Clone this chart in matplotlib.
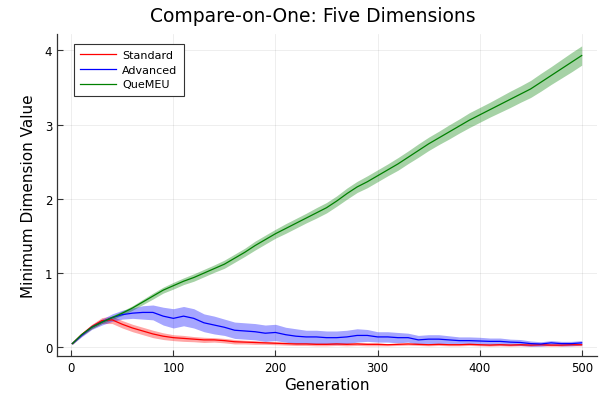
import matplotlib
matplotlib.use('Agg')
import matplotlib.pyplot as plt
import numpy as np

generations = [1] + list(range(10, 501, 10))

standard_mean = [0.05, 0.17, 0.28, 0.36, 0.37, 0.31, 0.26, 0.22, 0.18, 0.15,
                 0.13, 0.12, 0.11, 0.10, 0.10, 0.09, 0.075, 0.07, 0.065, 0.06,
                 0.055, 0.05, 0.045, 0.045, 0.04, 0.04, 0.045, 0.04, 0.045, 0.04,
                 0.04, 0.035, 0.04, 0.045, 0.04, 0.035, 0.04, 0.035, 0.035, 0.04,
                 0.035, 0.03, 0.035, 0.03, 0.035, 0.03, 0.035, 0.03, 0.03, 0.035,
                 0.035]
standard_sd = [0.01, 0.02, 0.03, 0.04, 0.05, 0.05, 0.05, 0.05, 0.05, 0.045,
               0.04, 0.04, 0.035, 0.035, 0.03, 0.03, 0.03, 0.025, 0.025, 0.02,
               0.02, 0.02, 0.02, 0.02, 0.02, 0.02, 0.02, 0.02, 0.02, 0.02,
               0.02, 0.015, 0.015, 0.015, 0.015, 0.015, 0.015, 0.015, 0.015, 0.015,
               0.015, 0.015, 0.015, 0.015, 0.015, 0.015, 0.015, 0.015, 0.015, 0.015,
               0.015]

advanced_mean = [0.05, 0.16, 0.27, 0.34, 0.40, 0.44, 0.46, 0.47, 0.47, 0.42,
                 0.39, 0.42, 0.39, 0.33, 0.30, 0.27, 0.23, 0.22, 0.21, 0.19,
                 0.20, 0.17, 0.15, 0.14, 0.14, 0.13, 0.13, 0.14, 0.16, 0.16,
                 0.14, 0.14, 0.13, 0.13, 0.10, 0.11, 0.11, 0.10, 0.09, 0.09,
                 0.085, 0.08, 0.08, 0.07, 0.065, 0.05, 0.045, 0.06, 0.05, 0.05,
                 0.06]
advanced_sd = [0.01, 0.02, 0.03, 0.04, 0.05, 0.06, 0.07, 0.09, 0.10, 0.12,
               0.13, 0.13, 0.13, 0.12, 0.12, 0.11, 0.11, 0.11, 0.11, 0.11,
               0.11, 0.10, 0.10, 0.09, 0.09, 0.09, 0.09, 0.09, 0.09, 0.08,
               0.07, 0.07, 0.07, 0.06, 0.06, 0.06, 0.06, 0.055, 0.05, 0.05,
               0.05, 0.045, 0.045, 0.04, 0.04, 0.035, 0.03, 0.03, 0.03, 0.03,
               0.03]

quemeu_mean = [0.05, 0.17, 0.27, 0.34, 0.40, 0.46, 0.53, 0.61, 0.69, 0.77,
               0.83, 0.89, 0.94, 1.00, 1.06, 1.12, 1.20, 1.28, 1.37, 1.45,
               1.53, 1.60, 1.67, 1.74, 1.81, 1.88, 1.97, 2.07, 2.16, 2.23,
               2.31, 2.39, 2.47, 2.56, 2.65, 2.74, 2.82, 2.90, 2.98, 3.06,
               3.13, 3.20, 3.27, 3.34, 3.41, 3.48, 3.57, 3.66, 3.75, 3.84,
               3.93]
quemeu_sd = [0.01, 0.015, 0.02, 0.02, 0.025, 0.03, 0.03, 0.035, 0.04, 0.04,
             0.045, 0.045, 0.05, 0.05, 0.05, 0.055, 0.055, 0.055, 0.06, 0.06,
             0.06, 0.065, 0.065, 0.065, 0.07, 0.07, 0.07, 0.075, 0.075, 0.08,
             0.08, 0.08, 0.085, 0.085, 0.09, 0.09, 0.09, 0.095, 0.095, 0.10,
             0.10, 0.10, 0.105, 0.11, 0.11, 0.115, 0.12, 0.12, 0.125, 0.13,
             0.13]

series = [
    ('Standard', standard_mean, standard_sd, 'red'),
    ('Advanced', advanced_mean, advanced_sd, 'blue'),
    ('QueMEU', quemeu_mean, quemeu_sd, 'green'),
]

plt.rcParams['font.family'] = 'DejaVu Sans'

fig = plt.figure(figsize=(6.07, 4.02), dpi=100)
ax = fig.add_axes([57 / 607, 45 / 402, 540 / 607, 322 / 402])

x = np.array(generations)
for label, mean, sd, color in series:
    m = np.array(mean)
    s = np.array(sd)
    ax.fill_between(x, m - s, m + s, color=color, alpha=0.35, linewidth=0)
    ax.plot(x, m, color=color, linewidth=0.9, label=label)

ax.set_xlim(-14, 515)
ax.set_ylim(-0.117, 4.22)
ax.set_xticks([0, 100, 200, 300, 400, 500])
ax.set_yticks([0, 1, 2, 3, 4])

ax.grid(True, color='black', alpha=0.08, linewidth=0.6)
ax.set_axisbelow(True)
for side in ['top', 'right']:
    ax.spines[side].set_visible(False)
for side in ['left', 'bottom']:
    ax.spines[side].set_color('#333333')
    ax.spines[side].set_linewidth(0.9)
ax.tick_params(direction='in', length=4, width=0.8, labelsize=8.5,
               colors='#333333', labelcolor='black')

# title is centred a bit left of the axes centre in the reference
fig.text(313 / 607, 1 - 16 / 402, 'Compare-on-One: Five Dimensions',
         fontsize=13.5, ha='center', va='center')
ax.set_xlabel('Generation', fontsize=11, labelpad=2)
ax.set_ylabel('Minimum Dimension Value', fontsize=11, labelpad=6)

leg = ax.legend(loc='upper left', bbox_to_anchor=(17 / 540, 1 - 10 / 322),
                borderaxespad=0, fontsize=8, fancybox=False, framealpha=1,
                edgecolor='#333333', handlelength=3.2, borderpad=0.55,
                labelspacing=0.42, handletextpad=0.6)
leg.get_frame().set_linewidth(0.8)

fig.savefig('out.png', dpi=100)
